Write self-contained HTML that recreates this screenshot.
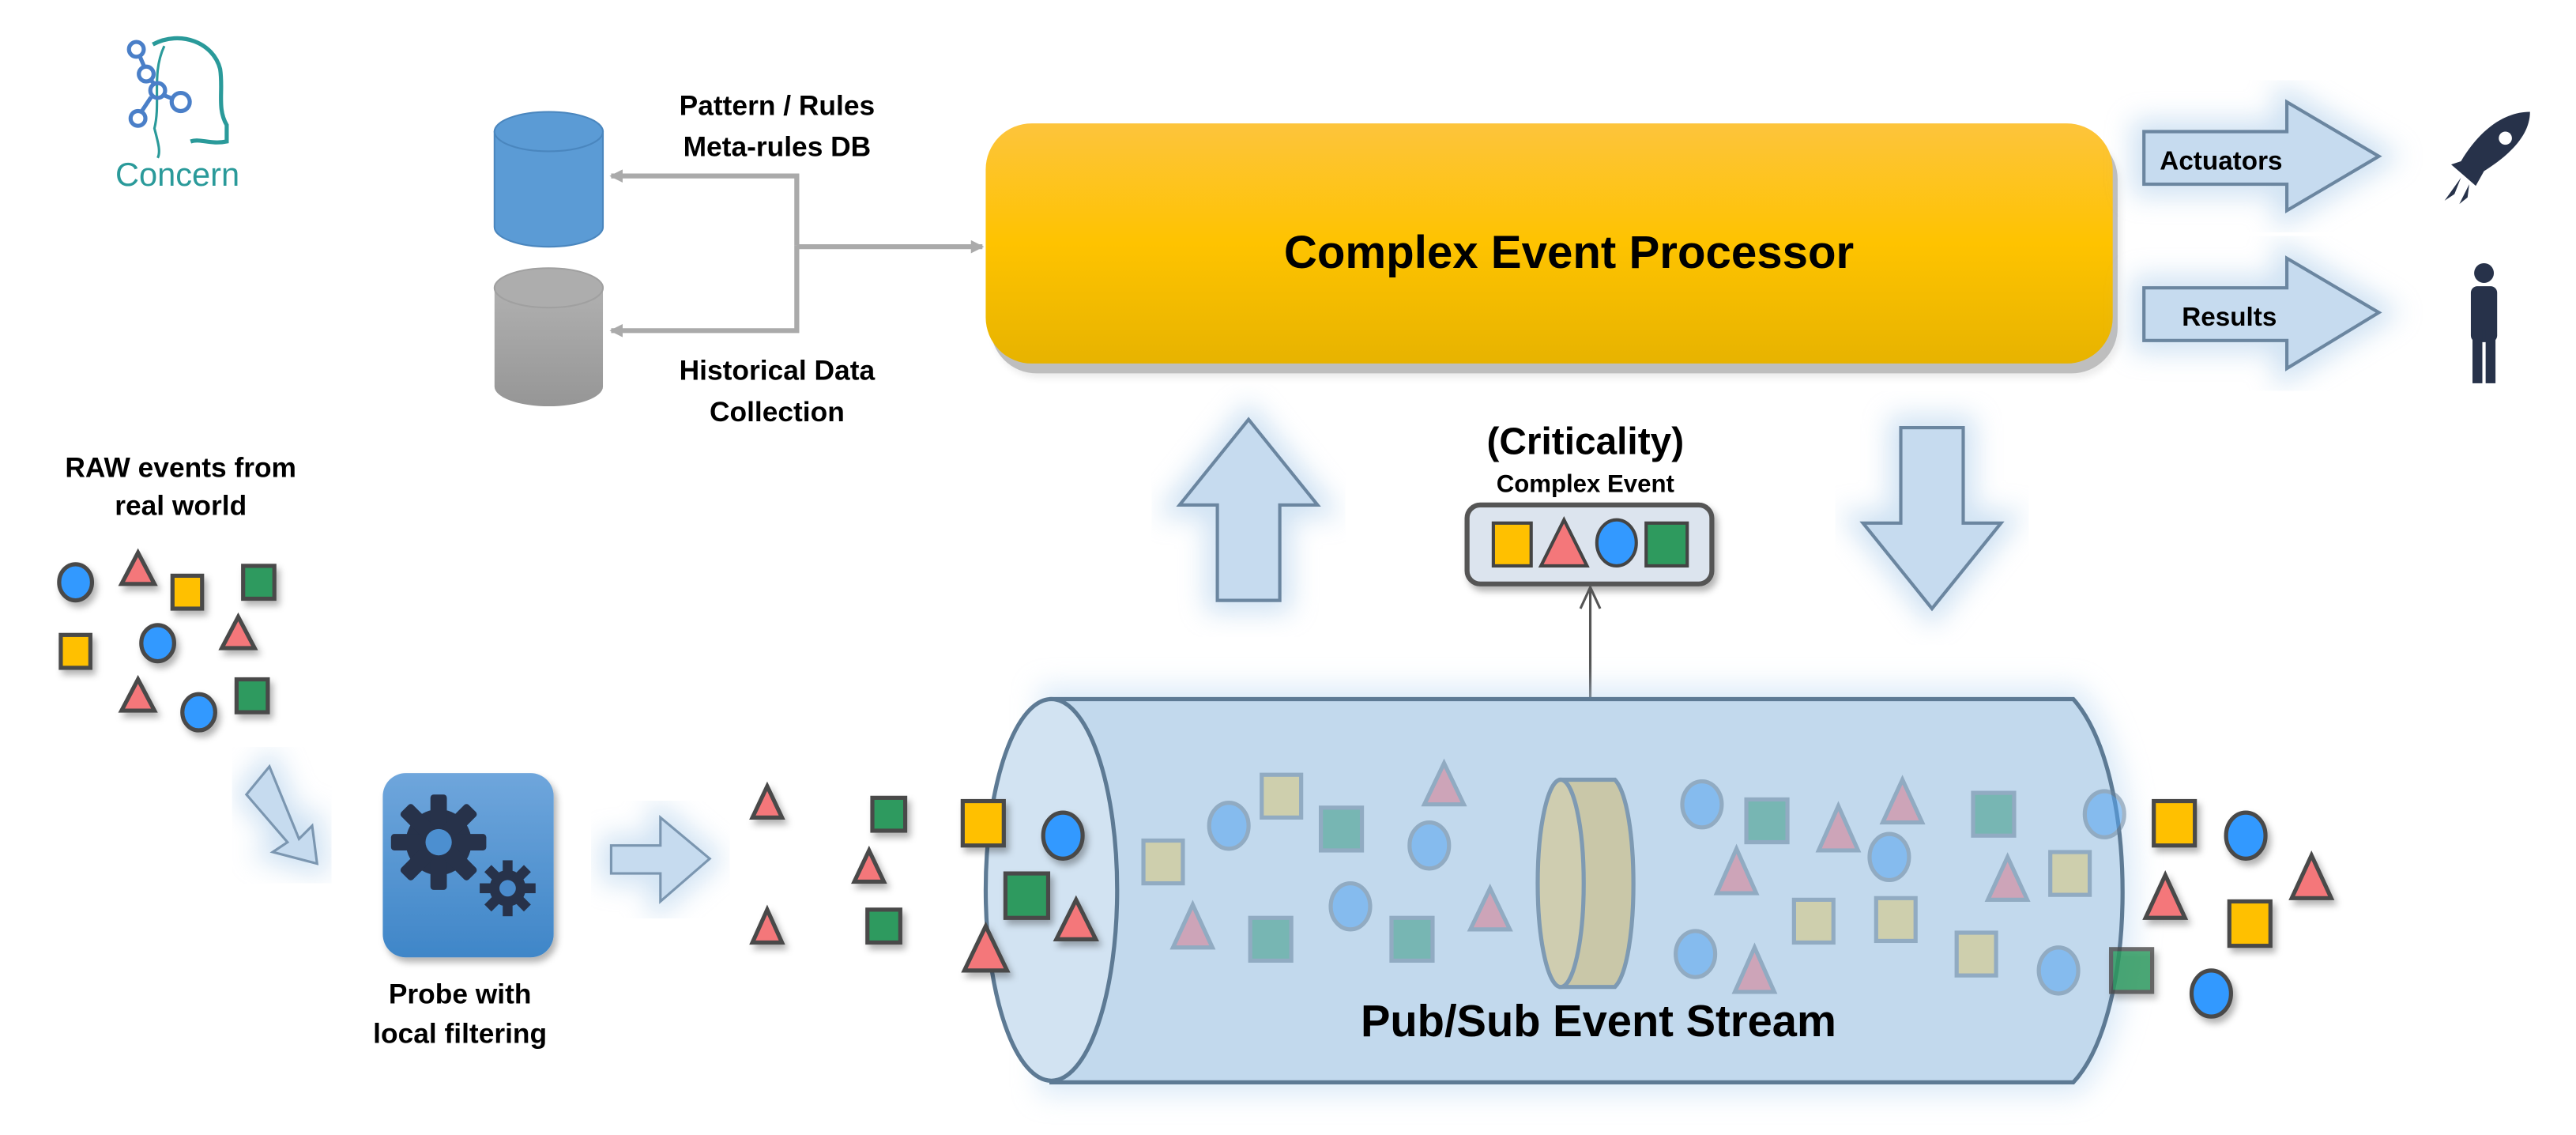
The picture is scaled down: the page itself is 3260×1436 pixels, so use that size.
<!DOCTYPE html>
<html><head><meta charset="utf-8"><style>
html,body{margin:0;padding:0;background:#fff;}
svg{display:block;}
text{font-family:"Liberation Sans Narrow","Liberation Sans",sans-serif;font-weight:bold;fill:#000;}
</style></head><body>
<svg width="3260" height="1436" viewBox="0 0 1568 690" preserveAspectRatio="none" xmlns="http://www.w3.org/2000/svg">
<defs>
<linearGradient id="cep" x1="0" y1="0" x2="0" y2="1"><stop offset="0" stop-color="#fdc43c"/><stop offset="0.5" stop-color="#fec300"/><stop offset="1" stop-color="#e7b300"/></linearGradient>
<linearGradient id="probe" x1="0" y1="0" x2="0" y2="1"><stop offset="0" stop-color="#6fa6dc"/><stop offset="1" stop-color="#3f86c8"/></linearGradient>
<linearGradient id="gray" x1="0" y1="0" x2="0" y2="1"><stop offset="0" stop-color="#b0b0b0"/><stop offset="1" stop-color="#969696"/></linearGradient>
<filter id="glow" x="-20%" y="-20%" width="140%" height="140%"><feGaussianBlur stdDeviation="8"/></filter>
<filter id="sh" x="-20%" y="-20%" width="140%" height="140%"><feDropShadow dx="2" dy="3" stdDeviation="2" flood-color="#000" flood-opacity="0.3"/></filter>
<marker id="ah" markerWidth="8" markerHeight="8" refX="7" refY="4" orient="auto" markerUnits="userSpaceOnUse"><path d="M0,0 L8,4 L0,8 z" fill="#aaa"/></marker>
</defs>

<!-- logo -->
<g fill="none" stroke-width="2.5">
<path d="M93,27 C110,18 130,26 134,42 C136,55 132,66 138,76 L138,86 C128,88 122,84 116,86" stroke="#2a9a9a"/>
<path d="M100,28 C92,45 98,62 94,78 C96,86 98,92 96,96" stroke="#2a9a9a" stroke-width="1.5"/>
<circle cx="83" cy="30" r="4.5" stroke="#4a7fc8"/><circle cx="89" cy="45" r="4.5" stroke="#4a7fc8"/>
<circle cx="96" cy="55" r="4.5" stroke="#4a7fc8"/><circle cx="110" cy="62" r="5.5" stroke="#4a7fc8"/>
<circle cx="84" cy="72" r="4.5" stroke="#4a7fc8"/>
<path d="M85,34 L88,41 M92,49 L94,51 M100,58 L105,60 M92,59 L86,68" stroke="#4a7fc8"/>
</g>
<text x="108" y="113" text-anchor="middle" style="font-family:'Liberation Sans',sans-serif;font-weight:normal;font-size:20px;fill:#2a9a9a">Concern</text>

<!-- cylinders -->
<path d="M301,80 L301,138 A33,12 0 0 0 367,138 L367,80 Z" fill="#5b9bd5" stroke="#4a86be"/>
<ellipse cx="334" cy="80" rx="33" ry="12" fill="#5b9bd5" stroke="#4a86be"/>
<path d="M301,175 L301,235 A33,12 0 0 0 367,235 L367,175 Z" fill="url(#gray)"/>
<ellipse cx="334" cy="175" rx="33" ry="12" fill="#adadad" stroke="#a0a0a0"/>

<!-- connectors -->
<g stroke="#aaa" stroke-width="3" fill="none">
<path d="M485,149 L485,107 L372,107" marker-end="url(#ah)"/>
<path d="M485,149 L485,201 L372,201" marker-end="url(#ah)"/>
<path d="M485,150 L598,150" marker-end="url(#ah)"/>
</g>
<text x="473" y="70" text-anchor="middle" font-size="17">Pattern / Rules</text>
<text x="473" y="95" text-anchor="middle" font-size="17">Meta-rules DB</text>
<text x="473" y="231" text-anchor="middle" font-size="17">Historical Data</text>
<text x="473" y="256" text-anchor="middle" font-size="17">Collection</text>

<!-- CEP -->
<rect x="600" y="77" width="686" height="146" rx="28" fill="#000" opacity="0.25" transform="translate(3,4)" filter="url(#sh)"/>
<rect x="600" y="75" width="686" height="146" rx="28" fill="url(#cep)"/>
<text x="955" y="163" text-anchor="middle" font-size="28" style="font-family:'Liberation Sans',sans-serif">Complex Event Processor</text>

<!-- side arrows -->
<g>
<path d="M1305,80 L1392,80 L1392,62 L1448,95 L1392,128 L1392,112 L1305,112 Z" fill="#bcd6ee" stroke="#9cc3e6" stroke-width="14" opacity="0.5" filter="url(#glow)"/>
<path d="M1305,80 L1392,80 L1392,62 L1448,95 L1392,128 L1392,112 L1305,112 Z" fill="#c6dbef" stroke="#6b86a0" stroke-width="2"/>
<text x="1352" y="103" text-anchor="middle" font-size="16">Actuators</text>
<path d="M1305,175 L1392,175 L1392,157 L1448,190 L1392,224 L1392,207 L1305,207 Z" fill="#bcd6ee" stroke="#9cc3e6" stroke-width="14" opacity="0.5" filter="url(#glow)"/>
<path d="M1305,175 L1392,175 L1392,157 L1448,190 L1392,224 L1392,207 L1305,207 Z" fill="#c6dbef" stroke="#6b86a0" stroke-width="2"/>
<text x="1357" y="198" text-anchor="middle" font-size="16">Results</text>
</g>
<!-- rocket -->
<g fill="#27324a">
<path d="M1540,68 C1525,68 1510,78 1498,98 L1492,100 L1499,106 L1507,113 L1512,104 C1528,94 1540,82 1540,68 Z"/>
<circle cx="1525" cy="84" r="4" fill="#fff"/>
<path d="M1498,108 L1488,122 L1494,118 Z M1503,112 L1497,124 L1502,120 Z"/>
</g>
<!-- person -->
<g fill="#27324a">
<circle cx="1512" cy="166" r="6"/>
<rect x="1504" y="174" width="16" height="34" rx="4"/>
<rect x="1505" y="200" width="6" height="33"/><rect x="1513" y="200" width="6" height="33"/>
</g>

<!-- up/down arrows -->
<path d="M741,365 L741,307 L718,307 L760,255 L802,307 L779,307 L779,365 Z" fill="#bcd6ee" stroke="#9cc3e6" stroke-width="14" opacity="0.5" filter="url(#glow)"/>
<path d="M741,365 L741,307 L718,307 L760,255 L802,307 L779,307 L779,365 Z" fill="#c6dbef" stroke="#6b86a0" stroke-width="2"/>
<path d="M1157,260 L1195,260 L1195,318 L1218,318 L1176,370 L1134,318 L1157,318 Z" fill="#bcd6ee" stroke="#9cc3e6" stroke-width="14" opacity="0.5" filter="url(#glow)"/>
<path d="M1157,260 L1195,260 L1195,318 L1218,318 L1176,370 L1134,318 L1157,318 Z" fill="#c6dbef" stroke="#6b86a0" stroke-width="2"/>

<!-- criticality -->
<text x="965" y="276" text-anchor="middle" font-size="23">(Criticality)</text>
<text x="965" y="299" text-anchor="middle" font-size="15">Complex Event</text>
<rect x="893" y="307" width="149" height="48" rx="8" fill="#dce4ee" stroke="#555" stroke-width="3" filter="url(#sh)"/>
<rect x="909" y="318" width="23" height="26" fill="#ffc000" stroke="#444" stroke-width="2"/>
<path d="M952,316 L966,344 L938,344 Z" fill="#f4777a" stroke="#444" stroke-width="2"/>
<ellipse cx="984" cy="330" rx="12" ry="14" fill="#3399ff" stroke="#444" stroke-width="2"/>
<rect x="1002" y="318" width="25" height="26" fill="#2e9a5e" stroke="#444" stroke-width="2"/>
<line x1="968" y1="480" x2="968" y2="358" stroke="#555" stroke-width="1.5"/>
<path d="M962,370 L968,357 L974,370" fill="none" stroke="#555" stroke-width="1.5"/>

<!-- pipe -->
<path d="M640,425 L1262,425 C1302,470 1302,615 1262,658 L640,658 Z" fill="#a9cbec" stroke="#bcd8f2" stroke-width="16" opacity="0.5" filter="url(#glow)"/>
<path d="M640,425 L1262,425 C1302,470 1302,615 1262,658 L640,658 Z" fill="#c2d9ed" stroke="#5d7a94" stroke-width="2.5"/>
<ellipse cx="640" cy="541" rx="40" ry="116" fill="#d2e3f2" stroke="#5d7a94" stroke-width="2.5"/>

<!-- faded shapes -->
<g opacity="0.55" stroke="#6a86a0" stroke-width="2.5">
<rect x="696" y="511" width="24" height="26" fill="#d8c77a"/>
<ellipse cx="748" cy="502" rx="12" ry="14" fill="#55a4f0"/>
<rect x="768" y="471" width="24" height="26" fill="#d8c77a"/>
<rect x="804" y="491" width="25" height="26" fill="#3a9a85"/>
<path d="M726,550 L738,576 L714,576 Z" fill="#d77a8e"/>
<ellipse cx="822" cy="551" rx="12" ry="14" fill="#55a4f0"/>
<rect x="761" y="558" width="25" height="26" fill="#3a9a85"/>
<path d="M879,464 L891,489 L867,489 Z" fill="#d77a8e"/>
<ellipse cx="870" cy="514" rx="12" ry="14" fill="#55a4f0"/>
<rect x="847" y="558" width="25" height="26" fill="#3a9a85"/>
<path d="M907,540 L919,565 L895,565 Z" fill="#d77a8e"/>
<ellipse cx="1036" cy="489" rx="12" ry="14" fill="#55a4f0"/>
<rect x="1063" y="486" width="25" height="26" fill="#3a9a85"/>
<path d="M1057,516 L1069,543 L1045,543 Z" fill="#d77a8e"/>
<ellipse cx="1032" cy="580" rx="12" ry="14" fill="#55a4f0"/>
<path d="M1068,576 L1080,603 L1056,603 Z" fill="#d77a8e"/>
<path d="M1119,490 L1131,517 L1107,517 Z" fill="#d77a8e"/>
<path d="M1158,474 L1170,500 L1146,500 Z" fill="#d77a8e"/>
<ellipse cx="1150" cy="521" rx="12" ry="14" fill="#55a4f0"/>
<rect x="1092" y="547" width="24" height="26" fill="#d8c77a"/>
<rect x="1142" y="546" width="24" height="26" fill="#d8c77a"/>
<rect x="1201" y="482" width="25" height="26" fill="#3a9a85"/>
<ellipse cx="1281" cy="495" rx="12" ry="14" fill="#55a4f0"/>
<path d="M1222,521 L1234,547 L1210,547 Z" fill="#d77a8e"/>
<rect x="1248" y="518" width="24" height="26" fill="#d8c77a"/>
<rect x="1191" y="567" width="24" height="26" fill="#d8c77a"/>
<ellipse cx="1253" cy="590" rx="12" ry="14" fill="#55a4f0"/>
</g>
<!-- filter disc -->
<path d="M950,474 L983,474 C998,490 998,585 983,600 L950,600 Z" fill="#c9c7a8" stroke="#7e9ab3" stroke-width="2.5"/>
<ellipse cx="950" cy="537" rx="14" ry="63" fill="#cfcdb0" stroke="#7e9ab3" stroke-width="2.5"/>

<text x="973" y="630" text-anchor="middle" font-size="27" style="font-family:'Liberation Sans',sans-serif">Pub/Sub Event Stream</text>

<!-- solid shapes -->
<g stroke="#4a4a4a" stroke-width="2.5" filter="url(#sh)">
<ellipse cx="46" cy="354" rx="10" ry="11" fill="#3399ff"/>
<path d="M84,336 L94,355 L74,355 Z" fill="#f4777a"/>
<rect x="105" y="350" width="18" height="20" fill="#ffc000"/>
<rect x="148" y="344" width="19" height="20" fill="#2e9a5e"/>
<rect x="37" y="386" width="18" height="20" fill="#ffc000"/>
<ellipse cx="96" cy="391" rx="10" ry="11" fill="#3399ff"/>
<path d="M145,375 L155,394 L135,394 Z" fill="#f4777a"/>
<path d="M84,413 L94,432 L74,432 Z" fill="#f4777a"/>
<ellipse cx="121" cy="433" rx="10" ry="11" fill="#3399ff"/>
<rect x="144" y="413" width="19" height="20" fill="#2e9a5e"/>

<path d="M467,478 L476,497 L458,497 Z" fill="#f4777a"/>
<rect x="531" y="485" width="20" height="20" fill="#2e9a5e"/>
<path d="M529,517 L538,536 L520,536 Z" fill="#f4777a"/>
<path d="M467,553 L476,573 L458,573 Z" fill="#f4777a"/>
<rect x="528" y="553" width="20" height="20" fill="#2e9a5e"/>

<rect x="586" y="487" width="25" height="27" fill="#ffc000"/>
<ellipse cx="647" cy="508" rx="12" ry="14" fill="#3399ff"/>
<rect x="612" y="531" width="26" height="27" fill="#2e9a5e"/>
<path d="M655,547 L667,571 L643,571 Z" fill="#f4777a"/>
<path d="M600,563 L613,590 L587,590 Z" fill="#f4777a"/>

<rect x="1311" y="487" width="25" height="27" fill="#ffc000"/>
<ellipse cx="1367" cy="508" rx="12" ry="14" fill="#3399ff"/>
<path d="M1407,520 L1419,546 L1395,546 Z" fill="#f4777a"/>
<path d="M1318,532 L1330,558 L1306,558 Z" fill="#f4777a"/>
<rect x="1357" y="548" width="25" height="27" fill="#ffc000"/>
<rect x="1285" y="577" width="25" height="26" fill="#2e9a5e" opacity="0.8"/>
<ellipse cx="1346" cy="604" rx="12" ry="14" fill="#3399ff"/>
</g>
<text x="110" y="290" text-anchor="middle" font-size="17">RAW events from</text>
<text x="110" y="313" text-anchor="middle" font-size="17">real world</text>

<!-- diagonal arrow -->
<path d="M150,483 L164,466 L182,510 L190,502 L193,525 L166,518 L175,512 Z" fill="#bcd6ee" stroke="#9cc3e6" stroke-width="12" opacity="0.5" filter="url(#glow)"/>
<path d="M150,483 L164,466 L182,510 L190,502 L193,525 L166,518 L175,512 Z" fill="#c6dbef" stroke="#7b96b0" stroke-width="1.5"/>

<!-- probe -->
<rect x="233" y="470" width="104" height="112" rx="14" fill="url(#probe)" filter="url(#sh)"/>
<g fill="#27324a">
<circle cx="267" cy="512" r="20"/>
<g transform="translate(267,512)">
<rect x="-5" y="-29" width="10" height="58" rx="2"/>
<rect x="-5" y="-29" width="10" height="58" rx="2" transform="rotate(45)"/>
<rect x="-5" y="-29" width="10" height="58" rx="2" transform="rotate(90)"/>
<rect x="-5" y="-29" width="10" height="58" rx="2" transform="rotate(135)"/>
</g>
<circle cx="309" cy="540" r="11"/>
<g transform="translate(309,540)">
<rect x="-3" y="-17" width="6" height="34"/>
<rect x="-3" y="-17" width="6" height="34" transform="rotate(45)"/>
<rect x="-3" y="-17" width="6" height="34" transform="rotate(90)"/>
<rect x="-3" y="-17" width="6" height="34" transform="rotate(135)"/>
</g>
</g>
<circle cx="267" cy="512" r="8" fill="#4c8fd0"/>
<circle cx="309" cy="540" r="5" fill="#4a8bcc"/>
<text x="280" y="610" text-anchor="middle" font-size="17">Probe with</text>
<text x="280" y="634" text-anchor="middle" font-size="17">local filtering</text>

<!-- right arrow -->
<path d="M372,514 L402,514 L402,497 L432,522 L402,548 L402,531 L372,531 Z" fill="#bcd6ee" stroke="#9cc3e6" stroke-width="12" opacity="0.5" filter="url(#glow)"/>
<path d="M372,514 L402,514 L402,497 L432,522 L402,548 L402,531 L372,531 Z" fill="#c6dbef" stroke="#7b96b0" stroke-width="1.5"/>
</svg>
</body></html>
